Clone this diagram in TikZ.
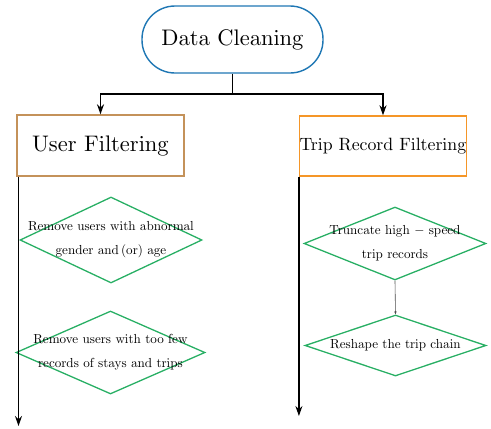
\documentclass[tikz,border=0pt]{standalone}
\usetikzlibrary{arrows.meta,shapes.geometric}
\definecolor{cleanblue}{RGB}{31,119,180}
\definecolor{userbrown}{RGB}{196,146,90}
\definecolor{triporange}{RGB}{245,150,40}
\definecolor{stepgreen}{RGB}{40,175,100}
% design-size Computer Modern, scaled linearly
\font\headfont=cmr10 at 22.5pt
\font\subfont=cmr10 at 17.8pt
\font\rulefont=cmr10 at 13.1pt
\font\rulesym=cmsy10 at 13.1pt
\newcommand{\rminus}{{\rulesym\char0}}
\newcommand{\rulesetup}{\rulefont\baselineskip=24pt\relax}
\tikzset{
  stage/.style={draw, line width=1.4pt, inner sep=0pt},
  rule/.style={diamond, draw=stepgreen, line width=1.3pt, inner sep=0pt},
  ruletext/.style={align=center, font=\rulesetup},
  flow/.style={line width=1.2pt, -{Stealth[length=10pt,width=7pt]}},
  link/.style={line width=1.2pt},
  thin link/.style={line width=0.6pt, draw=black!70, -{Stealth[length=3pt,width=2.5pt]}}
}
\begin{document}
\begin{tikzpicture}[x=1pt,y=-1pt]
\useasboundingbox (0,0) rectangle (491,429);

% top stage
\node[stage, draw=cleanblue, rounded corners=33pt, minimum width=181pt, minimum height=67pt,
      font=\headfont] (clean) at (232.5,39.5) {Data Cleaning};

% two branches
\node[stage, draw=userbrown, minimum width=167pt, minimum height=61pt,
      font=\headfont] (user) at (100.5,145.5) {User Filtering};
\node[stage, draw=triporange, minimum width=166pt, minimum height=60pt,
      font=\subfont] (trip) at (383,146) {Trip Record Filtering};

\coordinate (split) at (clean.south |- 0,94);
\draw[link] (clean.south) -- (split);
\draw[flow] (split) -| (user.north);
\draw[flow] (split) -| (trip.north);

% user filtering rules
\node[rule, minimum width=182pt, minimum height=86pt] (u1) at (111,240) {};
\node[ruletext] (u1t) at (u1) {Remove users with abnormal\\gender and\,(or) age};
\node[rule, minimum width=189pt, minimum height=83pt] (u2) at (110.5,352.5) {};
\node[ruletext] (u2t) at (u2) {Remove users with too few\\records of stays and trips};

% trip record rules
\node[rule, minimum width=182pt, minimum height=73pt] (t1) at (395,243.5) {};
\node[ruletext] (t1t) at (t1) {Truncate high \rminus{} speed\\trip records};
\node[rule, minimum width=181pt, minimum height=61pt] (t2) at (395.5,345.5) {};
\node[ruletext] (t2t) at (t2) {Reshape the trip chain};
\draw[thin link] (t1.south) -- (t2.north);

% long vertical flows along the branches
\coordinate (uend) at (18.5,426);
\coordinate (tend) at (trip.south west |- 0,416);
\draw[flow] (user.south west -| uend) -- (uend);
\draw[flow] (trip.south west) -- (tend);
\end{tikzpicture}
\end{document}
